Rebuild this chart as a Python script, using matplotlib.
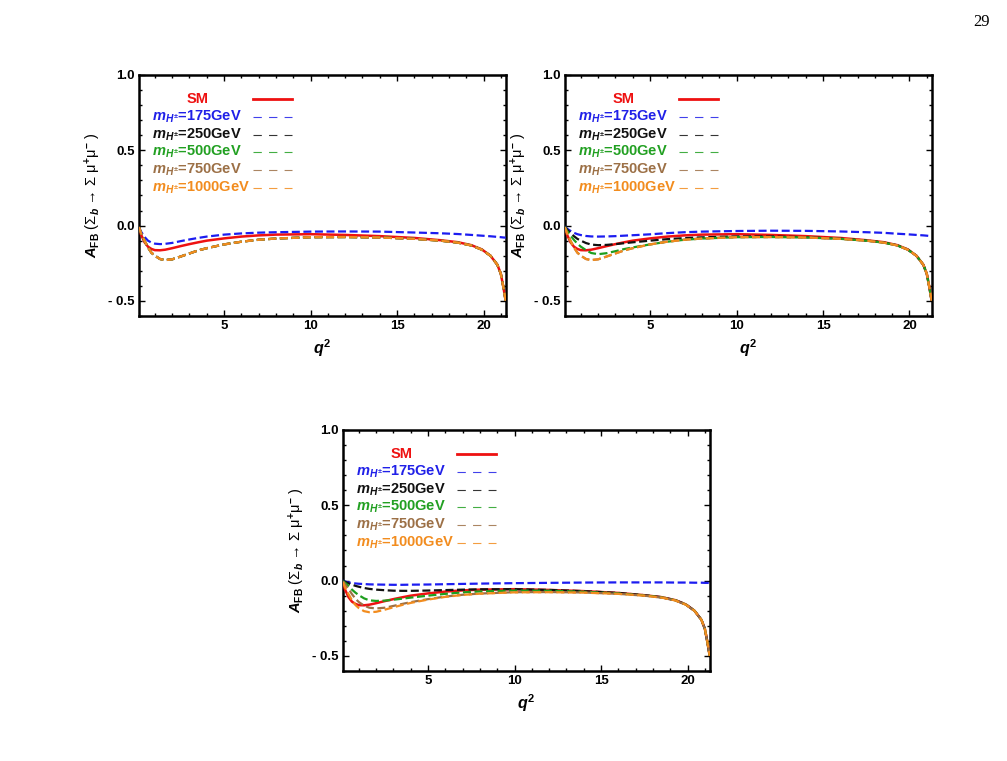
import matplotlib
matplotlib.use("Agg")
import matplotlib.pyplot as plt
from matplotlib.ticker import MultipleLocator

plt.rcParams['font.family'] = ['Liberation Sans', 'DejaVu Sans']
plt.rcParams['font.weight'] = 'bold'
plt.rcParams['mathtext.fontset'] = 'custom'
plt.rcParams['mathtext.rm'] = 'Liberation Sans:bold'
plt.rcParams['mathtext.it'] = 'Liberation Sans:italic:bold'
plt.rcParams['mathtext.bf'] = 'Liberation Sans:bold'
plt.rcParams['mathtext.sf'] = 'Liberation Sans:bold'

# ---------------- data ----------------
q2 = [0.08, 0.2, 0.4, 0.6, 0.8, 1.0, 1.3, 1.6, 2.0, 2.5, 3.0, 3.5, 4.0, 5.0, 6.0, 7.0,
      8.0, 10.0, 12.0, 14.0, 16.0, 17.5, 18.5, 19.3, 19.9, 20.4, 20.8, 21.0, 21.15, 21.28]

sm = [-0.01, -0.06, -0.11, -0.14, -0.155, -0.163, -0.164, -0.16, -0.15, -0.136, -0.123,
      -0.111, -0.1, -0.085, -0.073, -0.065, -0.06, -0.057, -0.062, -0.07, -0.082, -0.097,
      -0.11, -0.13, -0.158, -0.2, -0.26, -0.32, -0.41, -0.5]

heavy = [-0.01, -0.05, -0.1, -0.145, -0.18, -0.2, -0.222, -0.229, -0.224, -0.205, -0.185,
         -0.165, -0.15, -0.125, -0.107, -0.094, -0.086, -0.077, -0.076, -0.079, -0.088, -0.1,
         -0.113, -0.132, -0.16, -0.2, -0.26, -0.32, -0.41, -0.5]

# panel 1
p1_175 = [-0.01, -0.04, -0.075, -0.1, -0.113, -0.12, -0.123, -0.121, -0.115, -0.103, -0.092,
          -0.082, -0.073, -0.06, -0.052, -0.047, -0.044, -0.04, -0.039, -0.04, -0.046, -0.051,
          -0.056, -0.062, -0.067, -0.071, -0.075, -0.077, -0.079, -0.08]
p1_250 = heavy
p1_500 = heavy
p1_750 = heavy
p1_1000 = heavy

# panel 2
p2_175 = [-0.005, -0.02, -0.035, -0.048, -0.057, -0.063, -0.069, -0.072, -0.073, -0.072, -0.07,
          -0.067, -0.064, -0.058, -0.05, -0.044, -0.04, -0.036, -0.034, -0.035, -0.039, -0.044,
          -0.048, -0.054, -0.058, -0.062, -0.065, -0.067, -0.069, -0.07]
p2_250 = [-0.005, -0.025, -0.05, -0.07, -0.088, -0.1, -0.116, -0.126, -0.13, -0.128, -0.123,
          -0.117, -0.111, -0.1, -0.09, -0.083, -0.078, -0.072, -0.072, -0.077, -0.087, -0.099,
          -0.112, -0.131, -0.159, -0.2, -0.26, -0.32, -0.41, -0.5]
p2_500 = [-0.008, -0.035, -0.065, -0.095, -0.12, -0.14, -0.163, -0.182, -0.19, -0.183, -0.17,
          -0.156, -0.145, -0.125, -0.107, -0.094, -0.086, -0.077, -0.076, -0.079, -0.088, -0.1,
          -0.113, -0.132, -0.16, -0.2, -0.26, -0.32, -0.41, -0.5]
p2_750 = heavy
p2_1000 = heavy

# panel 3
p3_175 = [0.0, -0.006, -0.012, -0.016, -0.019, -0.021, -0.023, -0.025, -0.026, -0.027, -0.028,
          -0.028, -0.027, -0.026, -0.024, -0.022, -0.02, -0.017, -0.015, -0.013, -0.012, -0.012,
          -0.012, -0.013, -0.013, -0.014, -0.014, -0.015, -0.015, -0.016]
p3_250 = [0.0, -0.008, -0.018, -0.027, -0.035, -0.041, -0.049, -0.055, -0.06, -0.064, -0.067,
          -0.068, -0.068, -0.066, -0.063, -0.06, -0.058, -0.057, -0.062, -0.07, -0.082, -0.097,
          -0.11, -0.13, -0.158, -0.2, -0.26, -0.32, -0.41, -0.5]
p3_500 = [-0.003, -0.015, -0.035, -0.06, -0.08, -0.097, -0.118, -0.131, -0.135, -0.133, -0.127,
          -0.12, -0.113, -0.1, -0.088, -0.078, -0.072, -0.066, -0.067, -0.074, -0.085, -0.098,
          -0.111, -0.131, -0.159, -0.2, -0.26, -0.32, -0.41, -0.5]
p3_750 = [-0.005, -0.025, -0.055, -0.09, -0.12, -0.143, -0.166, -0.18, -0.185, -0.18, -0.168,
          -0.155, -0.143, -0.123, -0.106, -0.094, -0.086, -0.077, -0.076, -0.079, -0.088, -0.1,
          -0.113, -0.132, -0.16, -0.2, -0.26, -0.32, -0.41, -0.5]
p3_1000 = [-0.01, -0.045, -0.09, -0.13, -0.162, -0.183, -0.203, -0.21, -0.207, -0.193, -0.177,
           -0.162, -0.148, -0.126, -0.108, -0.095, -0.087, -0.078, -0.077, -0.08, -0.088, -0.1,
           -0.113, -0.132, -0.16, -0.2, -0.26, -0.32, -0.41, -0.5]

masses = ["175", "250", "500", "750", "1000"]
colors = ["#1c1cf0", "#111111", "#1e9e1e", "#9c7046", "#f28c1e"]
legend_colors = ["#2020e8", "#111111", "#22a022", "#9c7046", "#f28c1e"]

panels = [
    ([0.138, 0.5848, 0.3645, 0.3167], [p1_175, p1_250, p1_500, p1_750, p1_1000]),
    ([0.561, 0.5848, 0.3645, 0.3167], [p2_175, p2_250, p2_500, p2_750, p2_1000]),
    ([0.3406, 0.1183, 0.3645, 0.3167], [p3_175, p3_250, p3_500, p3_750, p3_1000]),
]

ytick_vals = [-0.5, 0.0, 0.5, 1.0]
ytick_labels = ["- 0.5", "0.0", "0.5", "1.0"]
xtick_vals = [5, 10, 15, 20]

fig = plt.figure(figsize=(10.07, 7.61), dpi=100)

for rect, series in panels:
    ax = fig.add_axes(rect)
    ax.plot(q2, sm, color="#ee1111", lw=1.8, solid_capstyle='butt', zorder=3)
    for vals, c in zip(series, colors):
        ax.plot(q2, vals, color=c, lw=1.6, dashes=(3.6, 1.6), zorder=4)
    ax.set_xlim(0.08, 21.3)
    ax.set_ylim(-0.6, 1.0)
    ax.set_xticks(xtick_vals)
    ax.set_xticklabels([str(v) for v in xtick_vals], fontsize=9.5, fontweight='bold')
    ax.set_yticks(ytick_vals)
    ax.set_yticklabels(ytick_labels, fontsize=9.5, fontweight='bold')
    ax.xaxis.set_minor_locator(MultipleLocator(1))
    ax.yaxis.set_minor_locator(MultipleLocator(0.1))
    ax.tick_params(which='both', direction='in', top=True, right=True, width=1.0)
    ax.tick_params(which='major', length=4, pad=3)
    ax.tick_params(which='minor', length=2.2)
    for s in ax.spines.values():
        s.set_linewidth(1.8)
    ax.set_xlabel(r"$q^{2}$", fontsize=11.5, labelpad=4)
    ax.set_ylabel(r"$A_{\rm FB}$ (Σ$_{b}$ → Σ μ$^{+}$μ$^{-}$ )", fontsize=10.5, labelpad=4)

    # legend (Mathematica-style, manual)
    ax.text(0.161, 0.90, "SM", color="#ee1111", fontsize=10.5, fontweight='bold',
            ha='center', va='center', transform=ax.transAxes)
    ax.plot([0.31, 0.417], [0.90, 0.90], color="#ee1111", lw=2.0, transform=ax.transAxes)
    rows_y = [0.826, 0.751, 0.68, 0.606, 0.531]
    for m, c, y in zip(masses, legend_colors, rows_y):
        ax.text(0.035, y, r"$\mathit{m}_{H^{\pm}}$=" + m + "GeV", color=c, fontsize=10.5,
                fontweight='bold', ha='left', va='center', transform=ax.transAxes)
        ax.plot([0.31, 0.417], [y, y], color=c, lw=0.8, dashes=(7.5, 6.5), alpha=0.85,
                transform=ax.transAxes)

fig.text(0.983, 0.982, "29", fontsize=12, family=['Liberation Serif'], fontweight='normal',
         ha='right', va='top')

fig.savefig("out.png", dpi=100)
